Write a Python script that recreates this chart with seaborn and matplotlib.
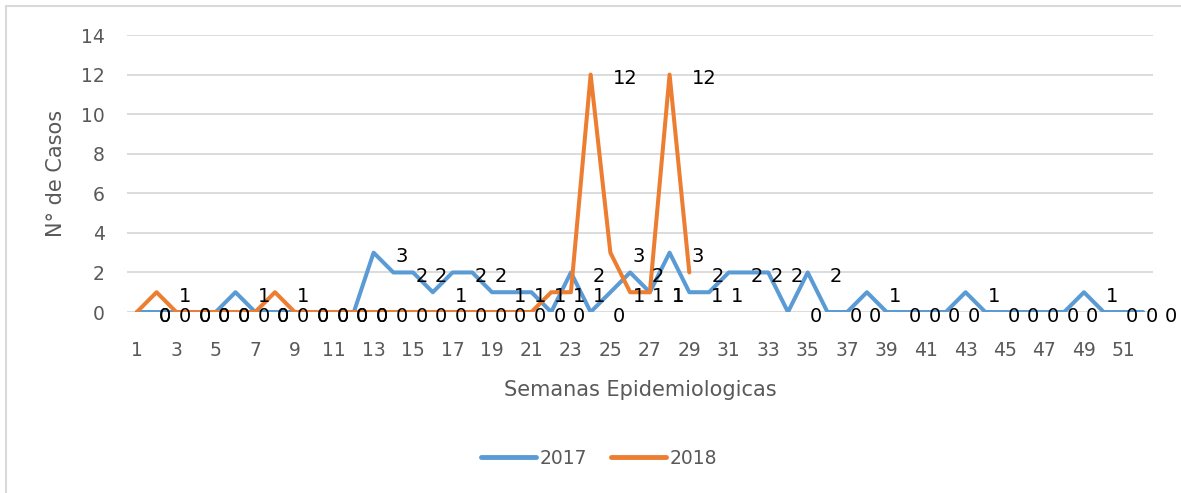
import pandas as pd
import numpy as np
import seaborn as sns
import matplotlib.pyplot as plt
from matplotlib.lines import Line2D

## chart data: cases per epidemiological week
semanas = list(range(1, 53))
casos_2017 = [0, 0, 0, 0, 0, 1, 0, 0, 0, 0, 0, 0,
              3, 2, 2, 1, 2, 2, 1, 1, 1, 0, 2, 0, 1, 2, 1, 3,
              1, 1, 2, 2, 2, 0, 2, 0, 0, 1, 0, 0, 0, 0,
              1, 0, 0, 0, 0, 0, 1, 0, 0, 0]
casos_2018 = [0, 1, 0, 0, 0, 0, 0, 1,
              0, 0, 0, 0, 0, 0, 0, 0, 0, 0, 0, 0, 0,
              1, 1, 12, 3, 1, 1, 12, 2]
anos = ['2017', '2018']
cores = {'2017': '#5B9BD5', '2018': '#ED7D31'}
yticks = list(range(0, 15, 2))
xticks = list(range(1, 52, 2))

## long format table for seaborn
base_dados = pd.concat([
    pd.DataFrame({'semana': semanas[:len(casos_2017)], 'casos': casos_2017, 'ano': '2017'}),
    pd.DataFrame({'semana': semanas[:len(casos_2018)], 'casos': casos_2018, 'ano': '2018'}),
], ignore_index=True)

sns.set_style('white')
plt.rcParams['font.family'] = ['DejaVu Sans']

cinza = '#595959'
grade = '#D9D9D9'

figura = plt.figure(figsize=(11.81, 4.93), dpi=100)
eixo = figura.add_axes([0.1075, 0.3671, 0.8688, 0.5619])

sns.lineplot(data=base_dados, x='semana', y='casos', hue='ano',
             palette=cores, linewidth=2.9, legend=False, ax=eixo,
             zorder=3)

## data labels to the right of each point
for ano in anos:
    dados = base_dados[base_dados['ano'] == ano]
    for semana, valor in zip(dados['semana'], dados['casos']):
        eixo.annotate(str(valor), xy=(semana, valor),
                      xytext=(22, -4), textcoords='offset pixels',
                      ha='left', va='center', fontsize=14,
                      color='black', zorder=4, annotation_clip=False)

eixo.set_xlim(0.5, 52.5)
eixo.set_ylim(0, 14)
eixo.set_yticks(yticks)
eixo.set_xticks(xticks)
eixo.grid(axis='y', color=grade, linewidth=1.3)
eixo.grid(axis='x', visible=False)
for lado in eixo.spines.values():
    lado.set_visible(False)
eixo.tick_params(axis='both', length=0, labelsize=13.5, labelcolor=cinza)
eixo.tick_params(axis='x', pad=21)
eixo.tick_params(axis='y', pad=16)

eixo.set_xlabel('Semanas Epidemiologicas', fontsize=15, color=cinza, labelpad=14)
eixo.set_ylabel('N° de Casos', fontsize=15, color=cinza, labelpad=11)

## legend at the bottom
alcas = [Line2D([0], [0], color=cores[a], linewidth=3.5) for a in anos]
figura.legend(alcas, anos, loc='center', bbox_to_anchor=(599 / 1181, 1 - 458 / 493),
              ncol=2, frameon=False, fontsize=13.5, labelcolor=cinza,
              handlelength=2.9, handletextpad=0.2, columnspacing=1.3)

## chart area border (left and top)
figura.add_artist(Line2D([6 / 1181, 6 / 1181], [0, 1 - 6 / 493],
                         transform=figura.transFigure, color=grade, linewidth=1.5))
figura.add_artist(Line2D([6 / 1181, 1], [1 - 6 / 493, 1 - 6 / 493],
                         transform=figura.transFigure, color=grade, linewidth=1.5))

plt.savefig('out.png', dpi=100)
plt.close()
